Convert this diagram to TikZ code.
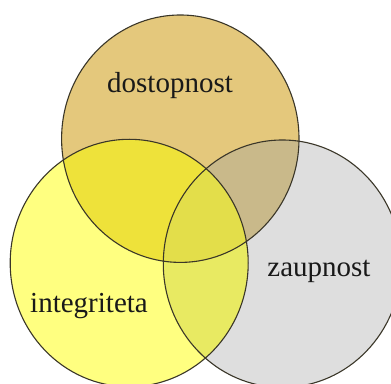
\documentclass[tikz,border=0pt]{standalone}
\usepackage{fontspec}
\setmainfont{Liberation Serif}
\definecolor{cTop}{HTML}{E4C87C}
\definecolor{cLeft}{HTML}{FFFF80}
\definecolor{cRight}{HTML}{DEDEDE}
\definecolor{cTL}{HTML}{EEE23A}
\definecolor{cTR}{HTML}{C9B98A}
\definecolor{cLR}{HTML}{E8EA62}
\definecolor{cTLR}{HTML}{E3DE4A}
\definecolor{cLine}{HTML}{3A3628}
\tikzset{
  label/.style={font=\fontsize{29}{31}\selectfont, text=black!90, anchor=base, inner sep=0pt},
  rim/.style={draw=cLine, line width=1.1pt}
}
\newcommand{\topC}{(180.3,244.3) ellipse [x radius=118.7, y radius=123.7]}
\newcommand{\leftC}{(129.2,120) ellipse [x radius=119, y radius=123.7]}
\newcommand{\rightC}{(282.3,119.3) ellipse [x radius=119, y radius=123.7]}
\begin{document}
\begin{tikzpicture}[x=1pt,y=1pt]
\useasboundingbox (0,0) rectangle (391,383);
\fill[white] (0,0) rectangle (391,383);
\begin{scope}
\clip (0,0) rectangle (391,383);
\fill[cTop] \topC;
\fill[cLeft] \leftC;
\fill[cRight] \rightC;
\begin{scope}
  \clip \leftC;
  \fill[cLR] \rightC;
\end{scope}
\begin{scope}
  \clip \topC;
  \fill[cTL] \leftC;
  \fill[cTR] \rightC;
  \clip \leftC;
  \fill[cTLR] \rightC;
\end{scope}
\draw[rim] \topC;
\draw[rim] \leftC;
\draw[rim] \rightC;
\end{scope}
\node[label] (dost) at (170,290.3) {dostopnost};
\node[label] (zaup) at (319,106) {zaupnost};
\node[label] (integ) at (89,70) {integriteta};
\end{tikzpicture}
\end{document}
